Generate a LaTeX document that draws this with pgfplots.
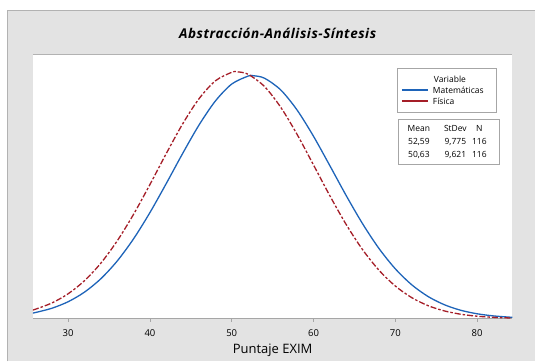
\documentclass[border=0pt]{standalone}
\usepackage{pgfplots}
\pgfplotsset{compat=1.18}
\usepackage{fontspec}
\setmainfont{Open Sans}
\definecolor{bgray}{RGB}{227,227,227}
\definecolor{mblue}{RGB}{30,100,185}
\definecolor{mred}{RGB}{165,30,40}
\begin{document}
\begin{tikzpicture}[x=1pt,y=1pt]
\fill[white] (0,0) rectangle (536,362);
\fill[bgray] (7,0) rectangle (536,352);
\draw[gray!60,line width=1.5pt] (7.75,0) -- (7.75,351.25) -- (536,351.25);
\node[font=\fontsize{13.5}{15}\selectfont\bfseries\itshape\addfontfeature{LetterSpace=4}] at (278,329) {Abstracción-Análisis-Síntesis};
\begin{axis}[
  at={(33pt,43pt)}, anchor=south west,
  scale only axis, width=480pt, height=264pt,
  xmin=25.7, xmax=84.3, ymin=0, ymax=0.0443,
  axis background/.style={fill=white},
  axis x line*=bottom, axis y line=none,
  x axis line style={draw=gray!70, line width=1.2pt, -},
  xtick={30,40,50,60,70,80},
  tick align=outside, major tick length=3pt,
  tick style={gray!70, line width=0.8pt},
  xticklabel style={font=\fontsize{9.5}{11}\selectfont, yshift=-4.5pt},
  /pgf/number format/assume math mode=true,
  xlabel={Puntaje EXIM},
  xlabel style={font=\fontsize{13}{15}\selectfont, yshift=-1pt},
  clip=false,
]
\addplot[mblue, line width=1.3pt, smooth] coordinates {
(25.7,0.000935)(26,0.001009)(28,0.001725)(30,0.002826)(32,0.004440)(34,0.006690)(36,0.009667)(38,0.013398)
(40,0.017806)(42,0.022696)(44,0.027738)(46,0.032516)(48,0.036551)(50,0.039405)
(52,0.040739)(52.59,0.040813)(54,0.040391)(56,0.038404)(58,0.035018)(60,0.030622)
(62,0.025678)(64,0.020651)(66,0.015926)(68,0.011779)(70,0.008355)(72,0.005683)
(74,0.003707)(76,0.002320)(78,0.001391)(80,0.000801)(82,0.000442)(84,0.000234)(84.3,0.000212)};
\addplot[mred, line width=1.3pt, smooth, dash pattern=on 6pt off 2pt on 2.5pt off 2pt] coordinates {
(25.7,0.001445)(26,0.001565)(28,0.002608)(30,0.004162)(32,0.006360)(34,0.009309)(36,0.013050)(38,0.017517)
(40,0.022522)(42,0.027732)(44,0.032704)(46,0.036932)(48,0.039945)(50,0.041377)(50.63,0.041466)
(52,0.041048)(54,0.038999)(56,0.035485)(58,0.030923)(60,0.025806)(62,0.020626)
(64,0.015788)(66,0.011574)(68,0.008126)(70,0.005464)(72,0.003519)(74,0.002170)
(76,0.001282)(78,0.000725)(80,0.000393)(82,0.000204)(84,0.000101)(84.3,0.000090)};
\node[draw=gray!70, line width=1pt, fill=white, anchor=north west, inner xsep=1pt, inner ysep=0pt,
  font=\fontsize{8.5}{11}\selectfont, text width=97pt, minimum height=44pt, align=left]
  at (rel axis cs:0.7604,0.9508)
  {\hspace*{35pt}Variable\\
   \hspace*{3pt}\textcolor{mblue}{\rule[2.6pt]{26pt}{1.5pt}}\hspace{5pt}Matemáticas\\
   \hspace*{3pt}\textcolor{mred}{\rule[2.6pt]{26pt}{1.5pt}}\hspace{5pt}Física};
\node[draw=gray!70, line width=1pt, fill=white, anchor=north west, inner xsep=1.5pt, inner ysep=0pt,
  font=\fontsize{8.5}{13}\selectfont, text width=98pt, minimum height=45pt, align=left]
  at (rel axis cs:0.7625,0.7576)
  {\makebox[37pt][c]{Mean}\makebox[36pt][c]{StDev}\makebox[12pt][c]{N}\\
   \makebox[37pt][c]{52,59}\makebox[36pt][c]{9,775}\makebox[12pt][c]{116}\\
   \makebox[37pt][c]{50,63}\makebox[36pt][c]{9,621}\makebox[12pt][c]{116}};
\end{axis}
\draw[gray!60, line width=1pt] (33,307.5) -- (513,307.5);
\end{tikzpicture}
\end{document}
